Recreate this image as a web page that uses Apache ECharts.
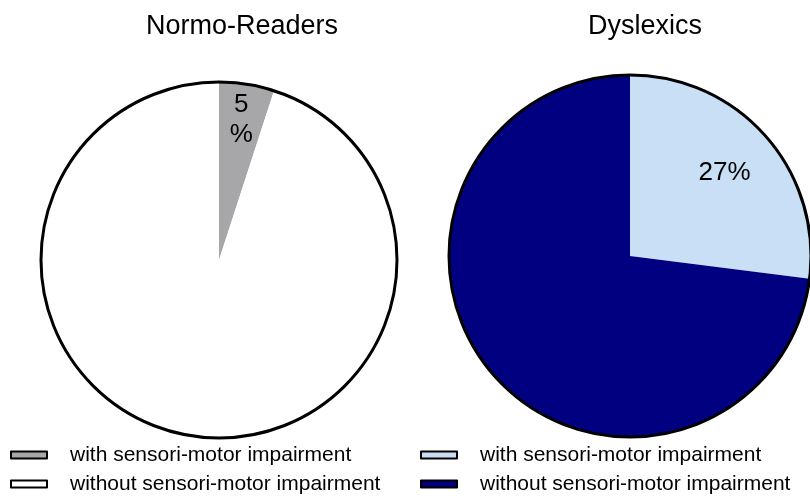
<!DOCTYPE html>
<html>
<head>
<meta charset="utf-8">
<script src="https://cdn.jsdelivr.net/npm/echarts@6/dist/echarts.min.js"></script>
<style>html,body{margin:0;padding:0;background:#fff}#c{width:810px;height:501px}</style>
</head>
<body>
<div id="c"></div>
<script>
const titles = ['Normo-Readers', 'Dyslexics'];
const categories = ['with sensori-motor impairment', 'without sensori-motor impairment'];
const normoValues = [5, 95];
const dyslexicValues = [27, 73];
const normoColors = ['#a7a7aa', '#ffffff'];
const dyslexicColors = ['#c9dff5', '#000080'];

const FONT = '"Liberation Sans", Arial, sans-serif';
const leftNames = categories.map(c => 'N|' + c);
const rightNames = categories.map(c => 'D|' + c);

function mkData(names, values, colors) {
  return names.map((n, i) => ({ name: n, value: values[i], itemStyle: { color: colors[i] } }));
}

function pieSet(center, R, r0, names, values, colors, labelFmt) {
  return [
    {
      type: 'pie', center: center, radius: [0, R], startAngle: 90, clockwise: true,
      data: mkData(names, values, colors), label: { show: false }, labelLine: { show: false },
      itemStyle: { borderWidth: 0 }, emphasis: { disabled: true }, animation: false
    },
    {
      type: 'pie', center: center, radius: [r0, R], startAngle: 90, clockwise: true,
      data: names.map((n, i) => ({
        name: n, value: values[i],
        label: { show: i === 0 }
      })),
      itemStyle: { color: 'rgba(0,0,0,0)', borderWidth: 0 },
      label: { show: true, position: 'inside', formatter: labelFmt, fontSize: 26, fontFamily: FONT, color: '#000', lineHeight: 30 },
      labelLine: { show: false }, silent: true, emphasis: { disabled: true }, animation: false
    },
    {
      type: 'pie', center: center, radius: [0, R], startAngle: 90,
      data: [{ name: 'outline', value: 1 }],
      itemStyle: { color: 'rgba(0,0,0,0)', borderColor: '#000', borderWidth: 3 },
      label: { show: false }, labelLine: { show: false }, silent: true, emphasis: { disabled: true }, animation: false
    }
  ];
}

function mkLegend(names, left) {
  return {
    data: names, left: left, top: 439, width: 390, height: 90,
    orient: 'vertical', icon: 'rect', itemWidth: 36, itemHeight: 7, itemGap: 7,
    itemStyle: { borderColor: '#000', borderWidth: 2 },
    textStyle: { fontSize: 21, fontFamily: FONT, color: '#000', lineHeight: 22, padding: [0, 0, 0, 18] },
    formatter: function (n) { return n.split('|')[1]; },
    selectedMode: false
  };
}

const chart = echarts.init(document.getElementById('c'), null, { renderer: 'canvas' });
chart.setOption({
  backgroundColor: '#fff',
  animation: false,
  title: [
    { text: titles[0], left: 237, top: 8, textAlign: 'center', textStyle: { fontSize: 27, fontWeight: 'normal', fontFamily: FONT, color: '#000' } },
    { text: titles[1], left: 640, top: 8, textAlign: 'center', textStyle: { fontSize: 27, fontWeight: 'normal', fontFamily: FONT, color: '#000' } }
  ],
  legend: [ mkLegend(leftNames, 5), mkLegend(rightNames, 415) ],
  series: [].concat(
    pieSet([219, 260], 178, 100, leftNames, normoValues, normoColors, p => p.value + '\n%'),
    pieSet([630, 256], 181, 65, rightNames, dyslexicValues, dyslexicColors, p => p.value + '%')
  )
});
</script>
</body>
</html>
